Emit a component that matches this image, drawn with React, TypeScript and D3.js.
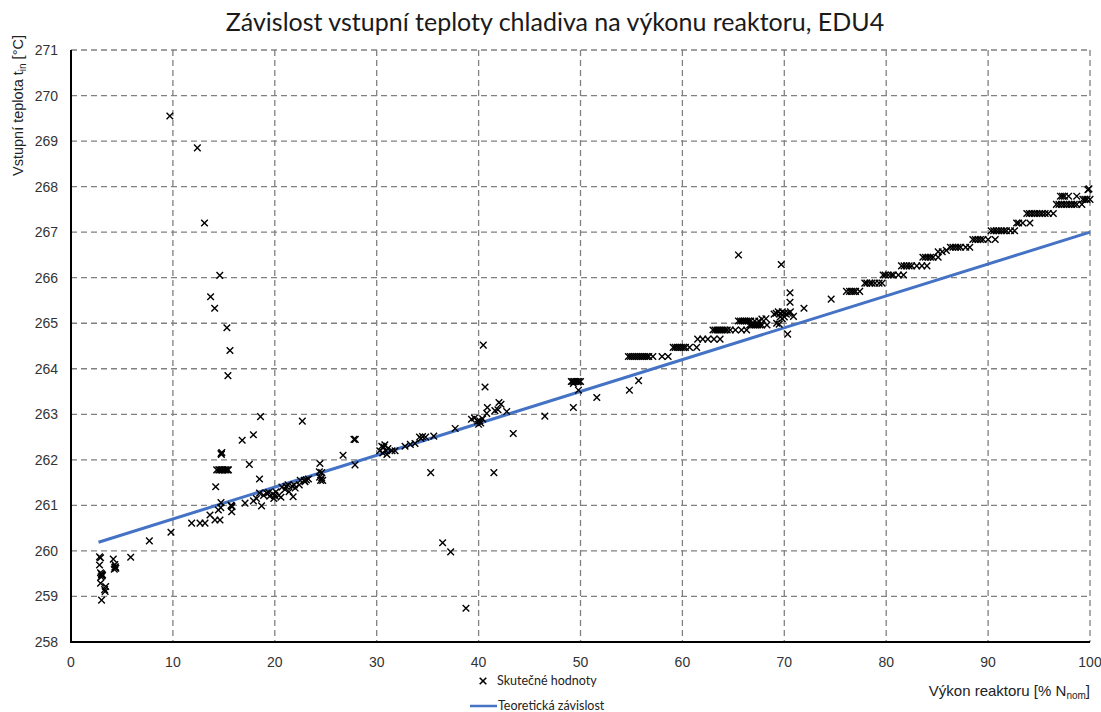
import React from "react";
import * as d3 from "d3";

const titleText = "Závislost vstupní teploty chladiva na výkonu reaktoru, EDU4";
const xTicks = [0, 10, 20, 30, 40, 50, 60, 70, 80, 90, 100];
const yTicks = [258, 259, 260, 261, 262, 263, 264, 265, 266, 267, 268, 269, 270, 271];

// theoretical relation: endpoints
const theoryPower = [2.7, 100];
const theoryTemp = [260.19, 267.0];

// measured values [power %, temperature °C]
const measured: [number, number][] = [
  [2.8,259.87],[2.9,259.85],[2.8,259.69],[2.9,259.52],[3.0,259.5],[3.05,259.45],[2.95,259.43],[2.9,259.29],[3.4,259.22],[3.3,259.15],[3.35,259.11],[3.0,258.92],[3.0,259.48],[3.1,259.47],
  [4.15,259.82],[4.3,259.7],[4.35,259.65],[4.4,259.62],[4.25,259.6],[4.3,259.64],[5.86,259.86],[7.69,260.22],[9.81,260.41],
  [9.7,269.55],[12.4,268.85],[13.1,267.2],[14.6,266.05],[13.7,265.58],[14.1,265.33],[15.3,264.9],[15.6,264.4],[15.4,263.85],[18.6,262.95],[22.7,262.85],[17.9,262.55],[16.8,262.43],[17.5,261.9],[14.72,262.14],[14.8,262.16],[14.76,262.12],
  [14.3,261.78],[14.5,261.78],[14.6,261.78],[14.75,261.78],[14.9,261.78],[15.05,261.78],[15.2,261.78],[15.35,261.78],[15.45,261.78],
  [14.2,261.41],[18.5,261.58],
  [11.84,260.61],[12.66,260.61],[13.15,260.61],[13.64,260.79],[14.13,260.68],[14.62,260.68],[14.46,260.9],[14.7,260.95],[14.72,261.06],[15.77,260.99],[15.7,261.0],[15.8,260.97],[15.77,260.86],
  [17.08,261.05],[17.9,261.1],[18.7,260.99],[18.2,261.15],
  [18.5,261.27],[18.9,261.22],[19.2,261.27],[19.5,261.2],[19.8,261.25],[20.1,261.3],[20.4,261.22],[20.6,261.18],[19.9,261.15],[19.4,261.28],[20.0,261.22],
  [20.7,261.4],[21.0,261.35],[21.3,261.45],[21.7,261.42],[22.0,261.38],[22.4,261.45],[21.8,261.19],[21.4,261.3],[21.1,261.42],[21.9,261.45],
  [22.5,261.55],[22.9,261.55],[23.3,261.58],[22.96,261.52],[23.1,261.56],
  [24.43,261.92],[24.37,261.74],[24.4,261.62],[24.5,261.55],[24.7,261.55],[24.6,261.72],[24.6,261.6],
  [26.7,262.1],[27.77,262.45],[27.9,262.45],[27.87,261.89],
  [30.3,262.2],[30.5,262.3],[30.8,262.33],[31.1,262.25],[30.6,262.15],[31.0,262.12],[31.5,262.2],[31.8,262.2],[30.9,262.2],[30.7,262.28],
  [32.78,262.3],[33.3,262.34],[33.76,262.36],[34.2,262.5],[34.5,262.51],[34.8,262.5],[34.35,262.47],[35.6,262.52],[37.7,262.69],[35.3,261.72],
  [39.3,262.89],[39.6,262.92],[39.9,262.85],[40.2,262.81],[40.0,262.78],[40.4,262.9],[40.1,262.86],[40.8,263.02],[40.86,263.15],[41.6,263.08],[41.9,263.1],[42.0,263.26],[42.2,263.22],[42.76,263.06],[40.46,264.52],[40.63,263.6],[43.4,262.58],[41.5,261.72],
  [36.47,260.18],[37.26,259.98],[38.76,258.74],
  [46.5,262.96],[49.3,263.15],[49.8,263.53],[51.6,263.37],[49.1,263.72],[49.25,263.72],[49.4,263.72],[49.55,263.72],[49.7,263.72],[49.85,263.72],[50.0,263.72],[49.3,263.68],
  [54.8,263.53],[55.7,263.74],
  [54.7,264.27],[54.9,264.27],[55.1,264.27],[55.3,264.27],[55.5,264.27],[55.7,264.27],[55.9,264.27],[56.1,264.27],[56.3,264.27],[56.5,264.27],[56.7,264.27],[57.1,264.27],[58.0,264.27],[58.6,264.27],
  [59.1,264.47],[59.3,264.47],[59.5,264.47],[59.7,264.47],[59.9,264.47],[60.1,264.47],[60.3,264.47],[60.7,264.47],[61.4,264.47],
  [61.5,264.65],[62.0,264.65],[62.5,264.65],[63.1,264.65],[63.7,264.65],
  [63.0,264.85],[63.2,264.85],[63.4,264.85],[63.6,264.85],[63.8,264.85],[64.0,264.85],[64.2,264.85],[64.4,264.85],[64.7,264.85],[65.2,264.85],[65.8,264.85],[66.3,264.85],
  [65.5,265.05],[65.7,265.05],[65.9,265.05],[66.1,265.05],[66.3,265.05],[66.5,265.05],[66.7,265.05],[67.1,265.05],[67.5,265.05],[67.8,265.09],[68.2,265.1],
  [66.6,264.96],[66.8,264.96],[67.0,264.96],[67.2,264.96],[67.4,264.96],[67.6,264.96],[67.8,264.96],[68.3,264.96],
  [69.0,265.2],[69.2,265.22],[69.4,265.25],[69.6,265.22],[69.8,265.25],[70.0,265.22],[70.2,265.2],[70.4,265.22],[70.6,265.25],[70.9,265.15],[69.6,265.14],[70.0,265.14],[69.8,265.1],[69.25,265.0],[69.5,264.98],[70.33,264.76],
  [65.5,266.5],[69.7,266.29],[70.56,265.67],[70.56,265.46],[71.93,265.33],[74.6,265.53],
  [76.1,265.7],[76.4,265.7],[76.6,265.7],[76.8,265.7],[77.0,265.7],[77.4,265.7],
  [77.9,265.88],[78.1,265.88],[78.4,265.88],[78.6,265.88],[78.9,265.88],[79.3,265.88],[79.6,265.88],
  [79.7,266.06],[79.9,266.06],[80.2,266.06],[80.5,266.06],[80.7,266.06],[81.2,266.06],[81.7,266.06],
  [81.5,266.26],[81.75,266.26],[82.0,266.26],[82.25,266.26],[82.5,266.26],[83.0,266.26],[83.5,266.26],[84.0,266.26],
  [83.6,266.45],[83.85,266.45],[84.1,266.45],[84.35,266.45],[84.6,266.45],[85.1,266.45],
  [85.1,266.57],[85.5,266.57],[85.9,266.6],
  [86.3,266.67],[86.55,266.67],[86.8,266.67],[87.05,266.67],[87.3,266.67],[87.8,266.67],[88.2,266.67],
  [88.5,266.84],[88.75,266.84],[89.0,266.84],[89.25,266.84],[89.5,266.84],[90.0,266.84],[90.7,266.84],
  [90.3,267.03],[90.55,267.03],[90.8,267.03],[91.05,267.03],[91.3,267.03],[91.55,267.03],[91.8,267.03],[92.2,267.03],[92.6,267.03],
  [92.8,267.2],[93.0,267.2],[93.4,267.2],[94.1,267.2],
  [93.8,267.41],[94.05,267.41],[94.3,267.41],[94.55,267.41],[94.8,267.41],[95.05,267.41],[95.3,267.41],[95.6,267.41],[95.9,267.41],[96.4,267.41],
  [96.7,267.61],[96.95,267.61],[97.2,267.61],[97.45,267.61],[97.7,267.61],[97.95,267.61],[98.2,267.61],[98.45,267.61],[98.7,267.61],[99.2,267.61],
  [97.1,267.79],[97.3,267.79],[97.5,267.79],[97.9,267.79],[98.7,267.79],
  [99.8,267.93],[99.9,267.95],[99.3,267.72],[99.5,267.72],[99.7,267.72],[100,267.72],
];

const W = 1101;
const H = 712;
const L = 71, R = 1090, T = 50, B = 642;

export default function App() {
  const x = d3.scaleLinear().domain([0, 100]).range([L, R]);
  const y = d3.scaleLinear().domain([258, 271]).range([B, T]);
  const line = d3.line<number>().x((d, i) => x(theoryPower[i])).y((d) => y(d));
  const s = 3.3;
  const axisFont = "'Liberation Sans', Arial, sans-serif";
  const calFont = "Lato, 'Open Sans', sans-serif";
  return (
    <svg width={W} height={H} style={{ position: "absolute", left: 0, top: 0, background: "#fff" }}>
      <rect x={0} y={0} width={W} height={H} fill="#fff" />
      <text x={555} y={31} textAnchor="middle" fontFamily={calFont} fontSize={25} fill="#1a1a1a">{titleText}</text>
      {/* grid */}
      {yTicks.filter((v) => v > 258).map((v) => (
        <line key={"gy" + v} x1={L} x2={R} y1={y(v)} y2={y(v)} stroke="#808080" strokeWidth={1.3} strokeDasharray="6,4" />
      ))}
      {xTicks.filter((v) => v > 0).map((v) => (
        <line key={"gx" + v} x1={x(v)} x2={x(v)} y1={T} y2={B} stroke="#808080" strokeWidth={1.3} strokeDasharray="6,4" />
      ))}
      {/* axes */}
      <line x1={L} x2={L} y1={T} y2={B + 1} stroke="#000" strokeWidth={2} />
      <line x1={L - 1} x2={R} y1={B} y2={B} stroke="#000" strokeWidth={2} />
      {yTicks.map((v) => (
        <text key={"ty" + v} x={58} y={y(v) + 5} textAnchor="end" fontFamily={axisFont} fontSize={14} fill="#333">{v}</text>
      ))}
      {xTicks.map((v) => (
        <text key={"tx" + v} x={x(v)} y={667} textAnchor="middle" fontFamily={axisFont} fontSize={14} fill="#333">{v}</text>
      ))}
      {/* theory line */}
      <path d={line(theoryTemp) || ""} fill="none" stroke="#4472C4" strokeWidth={3} />
      {/* measured points */}
      {measured.map(([p, t], i) => (
        <path key={"m" + i} d={`M${x(p) - s},${y(t) - s}L${x(p) + s},${y(t) + s}M${x(p) - s},${y(t) + s}L${x(p) + s},${y(t) - s}`} stroke="#000" strokeWidth={1.4} fill="none" />
      ))}
      {/* y label */}
      <text transform="translate(23,176) rotate(-90)" fontFamily={axisFont} fontSize={14.5} fill="#222">
        Vstupní teplota t<tspan fontSize={10} dy={3}>in</tspan><tspan dy={-3}> [°C]</tspan>
      </text>
      {/* x label */}
      <text x={1090} y={696} textAnchor="end" fontFamily={axisFont} fontSize={15} fill="#222">
        Výkon reaktoru [% N<tspan fontSize={10} dy={3}>nom</tspan><tspan dy={-3}>]</tspan>
      </text>
      {/* legend */}
      <path d={`M${483 - s},${681 - s}L${483 + s},${681 + s}M${483 - s},${681 + s}L${483 + s},${681 - s}`} stroke="#000" strokeWidth={1.6} />
      <text x={497} y={685} fontFamily={calFont} fontSize={12.5} fill="#222">Skutečné hodnoty</text>
      <line x1={470} x2={497} y1={706} y2={706} stroke="#4472C4" strokeWidth={2.5} />
      <text x={498} y={710} fontFamily={calFont} fontSize={12.5} fill="#222">Teoretická závislost</text>
    </svg>
  );
}
